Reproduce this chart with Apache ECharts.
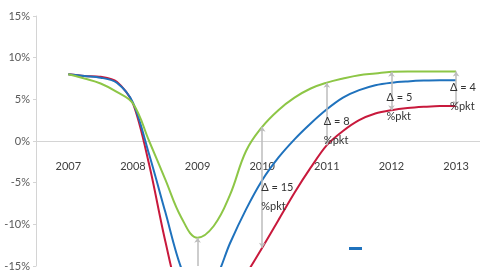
<!DOCTYPE html>
<html>
<head>
<meta charset="utf-8">
<script src="https://cdn.jsdelivr.net/npm/echarts@6/dist/echarts.min.js"></script>
<style>
html,body{margin:0;padding:0;background:#fff;}
#c{width:480px;height:270px;}
</style>
</head>
<body>
<div id="c"></div>
<script>
// Time points (years, quarterly readings)
const years = [2007, 2007.25, 2007.5, 2007.75, 2008, 2008.25, 2008.5, 2008.75, 2009, 2009.25, 2009.5, 2009.75, 2010, 2010.25, 2010.5, 2010.75, 2011, 2011.25, 2011.5, 2011.75, 2012, 2012.25, 2012.5, 2012.75, 2013];
// Series values (%)
const greenVals = [8.0, 7.5, 6.9, 5.9, 4.5, 0.0, -4.6, -9.2, -11.6, -10.2, -6.5, -1.2, 1.7, 3.7, 5.2, 6.3, 7.0, 7.5, 7.9, 8.1, 8.3, 8.35, 8.35, 8.35, 8.35];
const blueVals  = [8.0, 7.8, 7.6, 7.0, 4.6, -1.6, -8.5, -15.3, -18.5, -17.0, -12.3, -8.2, -4.7, -2.0, 0.2, 2.1, 3.8, 5.2, 6.1, 6.7, 7.0, 7.15, 7.25, 7.3, 7.3];
const redVals   = [8.0, 7.8, 7.7, 7.1, 4.5, -2.8, -12.0, -19.5, -22.0, -21.5, -19.0, -16.0, -12.8, -9.5, -6.2, -3.2, -0.5, 1.2, 2.5, 3.3, 3.7, 3.95, 4.1, 4.2, 4.2];
const seriesNames = ['Scenarie 1', 'Scenarie 2', 'Scenarie 3'];
// Gap arrows and labels
const arrowYears = [2009, 2010, 2011, 2012, 2013];
const gapYears = [2010, 2011, 2012, 2013];
const gapTexts = ['Δ = 15\n%pkt', 'Δ = 8\n%pkt', 'Δ = 5\n%pkt', 'Δ = 4\n%pkt'];
const gapLabelY = [-6.7, 1.2, 4.1, 5.3];
const gapLabelDx = [-1, -3, -5, -6];
// Axis settings
const yMin = -15, yMax = 15, yStep = 5;

const valAt = (arr, y) => arr[years.indexOf(y)];
const pairs = arr => years.map((y, i) => [y, arr[i]]);

const FONT = 'Lato';
const H = 270, gridTop = 16, gridBottom = 4;
const plotH = H - gridTop - gridBottom;
// move the x axis up from the bottom of the grid to the 0 level
const zeroOffset = -plotH * (0 - yMin) / (yMax - yMin);

const chart = echarts.init(document.getElementById('c'), null, {renderer: 'canvas'});

const markLineData = arrowYears.map(y => {
  const top = valAt(greenVals, y);
  const bot = Math.max(valAt(redVals, y), yMin);
  const clipped = valAt(redVals, y) < yMin;
  return [
    {coord: [y, bot], symbol: clipped ? 'none' : 'arrow'},
    {coord: [y, top], symbol: 'arrow'}
  ];
});

const markPointData = gapYears.map((y, i) => ({
  name: gapTexts[i],
  coord: [y, gapLabelY[i]],
  label: {offset: [gapLabelDx[i], 0]}
}));

chart.setOption({
  animation: false,
  backgroundColor: '#fff',
  textStyle: {fontFamily: FONT},
  grid: {left: 36, right: 0, top: gridTop, bottom: gridBottom, containLabel: false, outerBoundsMode: 'none'},
  legend: {
    data: [seriesNames[1]],
    left: 344, top: 242,
    icon: 'rect', itemWidth: 13, itemHeight: 3,
    formatter: () => '',
    textStyle: {fontSize: 1}
  },
  xAxis: {
    type: 'value',
    position: 'bottom',
    offset: zeroOffset,
    min: 2006.5, max: 2013.37, interval: 0.5,
    axisLine: {onZero: false, lineStyle: {color: '#d4d4d4', width: 1}},
    axisTick: {show: false},
    splitLine: {show: false},
    axisLabel: {
      margin: 20, fontSize: 11, color: '#404040', fontFamily: FONT,
      showMaxLabel: false, showMinLabel: false,
      formatter: v => Number.isInteger(v) ? String(v) : ''
    }
  },
  yAxis: {
    type: 'value',
    min: yMin, max: yMax, interval: yStep,
    axisLine: {show: true, onZero: false, lineStyle: {color: '#d4d4d4'}},
    axisTick: {show: true, length: 3, lineStyle: {color: '#d4d4d4'}},
    splitLine: {show: false},
    axisLabel: {margin: 6, fontSize: 11, color: '#595959', fontFamily: FONT, formatter: v => v + '%'}
  },
  series: [
    {
      name: seriesNames[2], type: 'line', data: pairs(redVals), smooth: 0.3,
      showSymbol: false, clip: true,
      lineStyle: {color: '#C8193C', width: 2}, itemStyle: {color: '#C8193C'}
    },
    {
      name: seriesNames[1], type: 'line', data: pairs(blueVals), smooth: 0.3,
      showSymbol: false, clip: true,
      lineStyle: {color: '#1F72BD', width: 2}, itemStyle: {color: '#1F72BD'}
    },
    {
      name: seriesNames[0], type: 'line', data: pairs(greenVals), smooth: 0.4,
      showSymbol: false, clip: true,
      lineStyle: {color: '#8DC646', width: 2}, itemStyle: {color: '#8DC646'},
      markLine: {
        silent: true, symbolSize: [5, 5],
        lineStyle: {color: '#bdbdbd', width: 1.5, type: 'solid'},
        label: {show: false},
        data: markLineData
      },
      markPoint: {
        silent: true, symbol: 'circle', symbolSize: 0,
        label: {
          show: true, position: 'right', distance: 0,
          align: 'left', verticalAlign: 'middle',
          formatter: '{b}', fontSize: 11, lineHeight: 19,
          color: '#333', fontFamily: FONT
        },
        data: markPointData
      }
    }
  ]
});
</script>
</body>
</html>
